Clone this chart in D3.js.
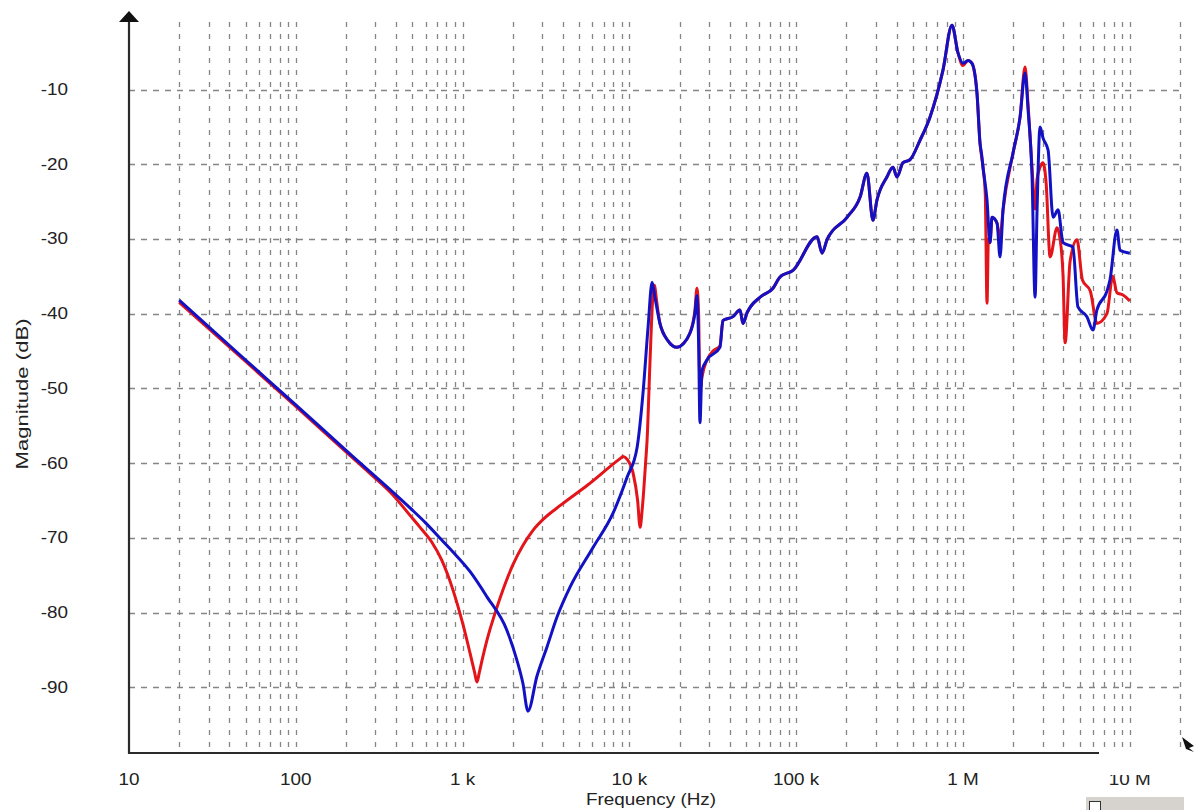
<!DOCTYPE html>
<html>
<head>
<meta charset="utf-8">
<script src="https://cdn.jsdelivr.net/npm/d3@7"></script>
<style>
  html, body { margin: 0; padding: 0; background: #fff; }
  svg { display: block; }
  text { font-family: "Liberation Sans", Arial, sans-serif; fill: #222; }
</style>
</head>
<body>
<svg id="chart" width="1194" height="810"></svg>
<script>
// ---- data (frequency in Hz, magnitude in dB) ----
const xTickValues = [10, 100, 1e3, 1e4, 1e5, 1e6, 1e7];
const xTickLabels = ["10", "100", "1 k", "10 k", "100 k", "1 M", "10 M"];
const yTickValues = [-10, -20, -30, -40, -50, -60, -70, -80, -90];
const yTickLabels = ["-10", "-20", "-30", "-40", "-50", "-60", "-70", "-80", "-90"];
const xAxisTitle = "Frequency (Hz)";
const yAxisTitle = "Magnitude (dB)";

const redFreq = [20, 50, 100, 200, 279, 380, 484, 556, 650, 750, 876, 1005, 1110, 1180, 1219, 1260, 1320, 1400, 1607, 2004, 2302, 2642, 3119, 3837, 5571, 8790, 9165, 9700, 10520, 11200, 11590, 11900, 12070, 12500, 12760, 13300, 13870, 14100, 14600, 15240, 17000, 19280, 21000, 23070, 24720, 25410, 26000, 26490, 27230, 29180, 31700, 34910, 36390, 41780, 46030, 47980, 50720, 60690, 72610, 79990, 95720, 133400, 142900, 153100, 201800, 241600, 265500, 288400, 304800, 349900, 380200, 401800, 436500, 480800, 552100, 633900, 758600, 859000, 933300, 1.0e6, 1.072e6, 1.132e6, 1.213e6, 1.265e6, 1.318e6, 1.36e6, 1.393e6, 1.42e6, 1.452e6, 1.493e6, 1.6e6, 1.667e6, 1.738e6, 1.995e6, 2.198e6, 2.355e6, 2.455e6, 2.594e6, 2.704e6, 2.78e6, 2.897e6, 3.02e6, 3.15e6, 3.327e6, 3.664e6, 3.819e6, 3.981e6, 4.093e6, 4.385e6, 4.821e6, 5.2e6, 5.8e6, 6.353e6, 7.295e6, 7.9e6, 8.375e6, 9.1e6, 1.0e7];
const redDb = [-38.5, -46.4, -52.4, -58.5, -61.4, -64.2, -67.0, -68.6, -70.5, -73.0, -77.0, -81.6, -85.5, -88.0, -89.3, -88.0, -86.0, -83.7, -79.3, -73.6, -71.0, -69.0, -67.3, -65.7, -63.0, -59.4, -59.1, -59.5, -61.3, -65.0, -68.6, -66.5, -64.9, -60.0, -57.0, -46.2, -37.2, -36.2, -38.5, -41.3, -43.6, -44.5, -44.0, -42.6, -39.5, -36.6, -40.0, -50.5, -48.5, -46.2, -45.0, -44.3, -40.9, -40.4, -39.5, -41.3, -39.9, -37.8, -36.6, -35.1, -34.2, -29.7, -31.9, -30.1, -27.1, -24.4, -21.2, -27.5, -24.8, -21.7, -20.4, -21.7, -19.8, -19.4, -16.8, -13.7, -7.4, -1.4, -5.1, -6.8, -6.1, -6.5, -10.5, -17.2, -20.4, -24.0, -38.6, -30.0, -30.5, -27.1, -27.9, -30.0, -26.1, -18.5, -13.7, -7.0, -12.0, -20.5, -26.0, -22.0, -20.4, -19.8, -22.5, -32.4, -28.5, -30.0, -35.0, -43.9, -33.0, -30.1, -35.5, -37.0, -41.3, -40.0, -35.0, -37.2, -37.5, -38.3];

const blueFreq = [20, 50, 100, 200, 484, 600, 750, 876, 1107, 1400, 1845, 2118, 2300, 2465, 2792, 3206, 3681, 4406, 6053, 7980, 9683, 11120, 12070, 12940, 13680, 14220, 15240, 17000, 19280, 23070, 24720, 25410, 26000, 26490, 27230, 29180, 34910, 36390, 41780, 46030, 47980, 50720, 60690, 72610, 79990, 95720, 133400, 142900, 153100, 201800, 241600, 265500, 288400, 304800, 349900, 380200, 401800, 436500, 480800, 552100, 633900, 758600, 859000, 933300, 1.0e6, 1.072e6, 1.132e6, 1.213e6, 1.265e6, 1.29e6, 1.318e6, 1.393e6, 1.452e6, 1.493e6, 1.6e6, 1.667e6, 1.738e6, 1.995e6, 2.198e6, 2.355e6, 2.455e6, 2.594e6, 2.704e6, 2.78e6, 2.897e6, 3.02e6, 3.236e6, 3.467e6, 3.715e6, 3.981e6, 4.56e6, 4.888e6, 5.534e6, 6.012e6, 6.353e6, 7.295e6, 7.603e6, 8.375e6, 8.73e6, 1.0e7];
const blueDb = [-38.2, -46.2, -52.2, -58.3, -66.0, -68.0, -70.3, -71.9, -74.5, -77.9, -82.4, -86.4, -89.5, -93.2, -88.5, -84.6, -80.6, -76.6, -71.3, -66.7, -61.9, -57.9, -50.6, -41.8, -35.8, -37.8, -41.3, -43.6, -44.5, -42.6, -39.9, -37.6, -44.0, -54.6, -47.6, -46.2, -44.5, -40.9, -40.4, -39.5, -41.3, -39.9, -37.8, -36.6, -35.1, -34.2, -29.7, -31.9, -30.1, -27.1, -24.4, -21.2, -27.5, -24.8, -21.7, -20.4, -21.7, -19.8, -19.4, -16.8, -13.7, -7.4, -1.4, -5.1, -6.5, -6.1, -6.5, -10.5, -17.2, -18.5, -20.4, -24.8, -30.5, -27.1, -27.9, -32.4, -26.1, -18.5, -13.7, -7.8, -12.7, -21.7, -37.8, -26.1, -15.0, -16.5, -18.1, -27.1, -26.1, -30.5, -31.1, -39.1, -40.4, -42.2, -39.5, -37.0, -35.5, -28.8, -31.5, -31.9];

// ---- layout ----
const svg = d3.select("#chart");
const W = 1194, H = 810;
const plotLeft = 129, plotBottom = 753, plotTop = 14.8;
const decade = 166.8;
const xMax = 2e7, yMin = -98.8, yMax = 0;

const x = d3.scaleLog().domain([10, xMax]).range([plotLeft, plotLeft + decade * Math.log10(xMax / 10)]);
const y = d3.scaleLinear().domain([yMin, yMax]).range([plotBottom, plotTop]);
const plotRight = x(xMax);

svg.append("rect").attr("width", W).attr("height", H).attr("fill", "#fff");

const sx = 1.18; // horizontal stretch of the lettering in the original screenshot
function label(g, px, py, txt, anchor, size) {
  return g.append("text")
    .attr("transform", `translate(${px},${py}) scale(${sx},1)`)
    .attr("text-anchor", anchor)
    .attr("font-size", size)
    .text(txt);
}

// ---- grid ----
const grid = svg.append("g");
const vTicks = x.ticks().filter(v => v > 10);
grid.selectAll("line.v").data(vTicks).join("line")
  .attr("x1", d => Math.round(x(d)) + 0.5).attr("x2", d => Math.round(x(d)) + 0.5)
  .attr("y1", 22).attr("y2", plotBottom - 2)
  .attr("stroke", "#858585").attr("stroke-width", 1.3)
  .attr("stroke-dasharray", "5,7");
grid.selectAll("line.h").data(yTickValues).join("line")
  .attr("x1", plotLeft).attr("x2", plotRight)
  .attr("y1", d => Math.round(y(d)) + 0.5).attr("y2", d => Math.round(y(d)) + 0.5)
  .attr("stroke", "#858585").attr("stroke-width", 1.3)
  .attr("stroke-dasharray", "6,6");

// ---- series ----
const line = d3.line().x(d => x(d[0])).y(d => y(d[1])).curve(d3.curveMonotoneX);
const red = redFreq.map((f, i) => [f, redDb[i]]);
const blue = blueFreq.map((f, i) => [f, blueDb[i]]);
svg.append("path").datum(red).attr("d", line)
  .attr("fill", "none").attr("stroke", "#e3141a").attr("stroke-width", 3)
  .attr("stroke-linejoin", "round");
svg.append("path").datum(blue).attr("d", line)
  .attr("fill", "none").attr("stroke", "#1212c4").attr("stroke-width", 3)
  .attr("stroke-linejoin", "round");

// ---- axes ----
const ax = svg.append("g");
ax.append("line").attr("x1", plotLeft).attr("x2", plotLeft).attr("y1", plotBottom + 1).attr("y2", 20)
  .attr("stroke", "#2a2a2a").attr("stroke-width", 2.2);
ax.append("path").attr("d", `M${plotLeft},11 L${plotLeft + 10},22 L${plotLeft - 10},22 Z`).attr("fill", "#111");
ax.append("line").attr("x1", plotLeft - 1).attr("x2", plotRight + 6).attr("y1", plotBottom).attr("y2", plotBottom)
  .attr("stroke", "#2a2a2a").attr("stroke-width", 2.2);

// y tick labels
yTickValues.forEach((v, i) => {
  label(ax, 68, y(v) + 5.5, yTickLabels[i], "end", 16);
});
// x tick labels
xTickValues.forEach((v, i) => {
  label(ax, x(v), 785, xTickLabels[i], "middle", 16);
});

// axis titles
ax.append("text")
  .attr("transform", `translate(28,394) rotate(-90) scale(1.3,1)`)
  .attr("text-anchor", "middle").attr("font-size", 17).text(yAxisTitle);
label(ax, 651, 805, xAxisTitle, "middle", 16);

// ---- screenshot overlays (cursor, covering box, checkbox) ----
svg.append("rect").attr("x", 1099).attr("y", 748).attr("width", 95).attr("height", 27).attr("fill", "#fff");
svg.append("path").attr("d", "M1182,737 L1194,746 L1189,748 L1194,752 L1186,749 Z").attr("fill", "#111");
svg.append("rect").attr("x", 1086).attr("y", 797).attr("width", 98).attr("height", 13).attr("fill", "#d6d3ce");
svg.append("rect").attr("x", 1089.5).attr("y", 801.5).attr("width", 11).attr("height", 10)
  .attr("fill", "#fff").attr("stroke", "#333").attr("stroke-width", 1);
</script>
</body>
</html>
